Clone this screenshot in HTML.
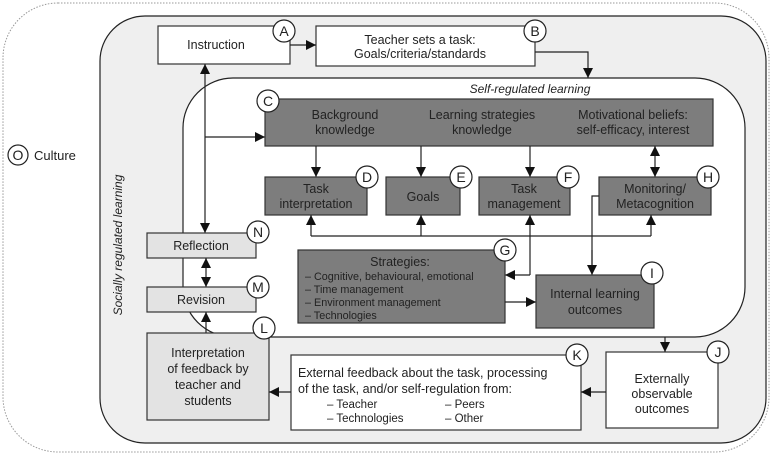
<!DOCTYPE html>
<html><head><meta charset="utf-8"><style>
html,body{margin:0;padding:0;background:#fff;}
svg{display:block;font-family:"Liberation Sans",sans-serif;}
text{font-size:12.5px;fill:#222;}
.dk{fill:#7d7d7d;stroke:#333;stroke-width:1.2;}
.lt{fill:#e3e3e3;stroke:#333;stroke-width:1.2;}
.wh{fill:#fff;stroke:#333;stroke-width:1.2;}
.ln{stroke:#222;stroke-width:1.2;fill:none;}
.c{fill:#fff;stroke:#222;stroke-width:1.2;}
.cl{font-size:14px;text-anchor:middle;}
.m{text-anchor:middle;}
.sl{font-size:10.8px;}
</style></head><body>
<svg width="772" height="455" viewBox="0 0 772 455">
<defs>
<marker id="a" viewBox="0 0 10 10" refX="10" refY="5" markerWidth="10" markerHeight="10" markerUnits="userSpaceOnUse" orient="auto"><path d="M0,0L10,5L0,10z" fill="#111"/></marker>
<marker id="s" viewBox="0 0 10 10" refX="0" refY="5" markerWidth="10" markerHeight="10" markerUnits="userSpaceOnUse" orient="auto"><path d="M10,0L0,5L10,10z" fill="#111"/></marker>
</defs>
<rect x="3" y="3" width="766" height="449" rx="55" fill="#fff" stroke="#999" stroke-width="1" stroke-dasharray="1.5,1.5"/>
<rect x="100" y="16" width="666" height="427" rx="45" fill="#efefef" stroke="#222" stroke-width="1.2"/>
<rect x="183" y="78" width="562" height="259" rx="50" fill="#fff" stroke="#222" stroke-width="1.2"/>
<text x="530" y="93" style="font-style:italic;font-size:12px" class="m">Self-regulated learning</text>
<text transform="translate(122,245) rotate(-90)" class="m" style="font-style:italic;font-size:12px">Socially regulated learning</text>
<circle cx="18" cy="155" r="10" class="c"/><text x="18" y="160" class="cl">O</text>
<text x="34" y="160" style="font-size:13px">Culture</text>

<rect x="158" y="26" width="132" height="38" class="wh"/>
<text x="216" y="49" class="m">Instruction</text>
<rect x="316" y="26" width="219" height="40" class="wh"/>
<text x="420" y="44" class="m">Teacher sets a task:</text>
<text x="420" y="58" class="m">Goals/criteria/standards</text>
<line x1="290" y1="45" x2="316" y2="45" class="ln" marker-end="url(#a)"/>
<polyline points="535,52 588,52 588,78" class="ln" marker-end="url(#a)"/>

<line x1="205" y1="64" x2="205" y2="233" class="ln" marker-start="url(#s)" marker-end="url(#a)"/>
<line x1="205" y1="137" x2="265" y2="137" class="ln" marker-end="url(#a)"/>

<rect x="265" y="99" width="448" height="47" class="dk"/>
<text x="345" y="119" class="m">Background</text><text x="345" y="134" class="m">knowledge</text>
<text x="482" y="119" class="m">Learning strategies</text><text x="482" y="134" class="m">knowledge</text>
<text x="633" y="119" class="m">Motivational beliefs:</text><text x="633" y="134" class="m">self-efficacy, interest</text>

<line x1="316" y1="146" x2="316" y2="177" class="ln" marker-end="url(#a)"/>
<line x1="421" y1="146" x2="421" y2="177" class="ln" marker-end="url(#a)"/>
<line x1="530" y1="146" x2="530" y2="177" class="ln" marker-end="url(#a)"/>
<line x1="655" y1="146" x2="655" y2="177" class="ln" marker-start="url(#s)" marker-end="url(#a)"/>

<rect x="265" y="177" width="102" height="38" class="dk"/>
<text x="316" y="193" class="m">Task</text><text x="316" y="208" class="m">interpretation</text>
<rect x="386" y="177" width="74" height="38" class="dk"/>
<text x="423" y="201" class="m">Goals</text>
<rect x="479" y="177" width="91" height="38" class="dk"/>
<text x="524" y="193" class="m">Task</text><text x="524" y="208" class="m">management</text>
<rect x="599" y="177" width="112" height="38" class="dk"/>
<text x="655" y="193" class="m">Monitoring/</text><text x="655" y="208" class="m">Metacognition</text>

<polyline points="311,236 651,236" class="ln"/>
<line x1="311" y1="236" x2="311" y2="215" class="ln" marker-end="url(#a)"/>
<line x1="421" y1="236" x2="421" y2="215" class="ln" marker-end="url(#a)"/>
<line x1="651" y1="236" x2="651" y2="215" class="ln" marker-end="url(#a)"/>
<line x1="530" y1="275" x2="530" y2="215" class="ln" marker-end="url(#a)"/>
<line x1="530" y1="275" x2="505" y2="275" class="ln" marker-end="url(#a)"/>
<polyline points="599,196 592,196 592,268" class="ln"/>
<line x1="592" y1="250" x2="592" y2="275" class="ln" marker-end="url(#a)"/>

<rect x="298" y="250" width="207" height="73" class="dk"/>
<text x="400" y="266" class="m">Strategies:</text>
<text x="305" y="280" class="sl">– Cognitive, behavioural, emotional</text>
<text x="305" y="293" class="sl">– Time management</text>
<text x="305" y="306" class="sl">– Environment management</text>
<text x="305" y="319" class="sl">– Technologies</text>
<line x1="505" y1="302" x2="536" y2="302" class="ln" marker-end="url(#a)"/>
<rect x="536" y="275" width="118" height="53" class="dk"/>
<text x="595" y="298" class="m">Internal learning</text><text x="595" y="314" class="m">outcomes</text>

<rect x="147" y="233" width="109" height="25" class="lt"/>
<text x="201" y="250" class="m">Reflection</text>
<line x1="206" y1="258" x2="206" y2="287" class="ln" marker-start="url(#s)" marker-end="url(#a)"/>
<rect x="147" y="287" width="109" height="25" class="lt"/>
<text x="201" y="304" class="m">Revision</text>
<line x1="206" y1="333" x2="206" y2="312" class="ln" marker-end="url(#a)"/>
<rect x="147" y="333" width="122" height="87" class="lt"/>
<text x="208" y="357" class="m">Interpretation</text>
<text x="208" y="373" class="m">of feedback by</text>
<text x="208" y="389" class="m">teacher and</text>
<text x="208" y="405" class="m">students</text>

<rect x="291" y="355" width="290" height="75" class="wh"/>
<text x="298" y="377">External feedback about the task, processing</text>
<text x="298" y="393">of the task, and/or self-regulation from:</text>
<text x="327" y="408" style="font-size:11.5px">– Teacher</text>
<text x="327" y="422" style="font-size:11.5px">– Technologies</text>
<text x="445" y="408" style="font-size:11.5px">– Peers</text>
<text x="445" y="422" style="font-size:11.5px">– Other</text>
<rect x="606" y="352" width="112" height="76" class="wh"/>
<text x="662" y="383" class="m">Externally</text>
<text x="662" y="398" class="m">observable</text>
<text x="662" y="413" class="m">outcomes</text>
<line x1="665" y1="337" x2="665" y2="352" class="ln" marker-end="url(#a)"/>
<line x1="606" y1="392" x2="581" y2="392" class="ln" marker-end="url(#a)"/>
<line x1="291" y1="392" x2="269" y2="392" class="ln" marker-end="url(#a)"/>

<g>
<circle cx="284" cy="31" r="11" class="c"/><text x="284" y="36" class="cl">A</text>
<circle cx="535" cy="31" r="11" class="c"/><text x="535" y="36" class="cl">B</text>
<circle cx="268" cy="101" r="11" class="c"/><text x="268" y="106" class="cl">C</text>
<circle cx="367" cy="177" r="11" class="c"/><text x="367" y="182" class="cl">D</text>
<circle cx="461" cy="177" r="11" class="c"/><text x="461" y="182" class="cl">E</text>
<circle cx="568" cy="177" r="11" class="c"/><text x="568" y="182" class="cl">F</text>
<circle cx="708" cy="177" r="11" class="c"/><text x="708" y="182" class="cl">H</text>
<circle cx="505" cy="250" r="11" class="c"/><text x="505" y="255" class="cl">G</text>
<circle cx="652" cy="273" r="11" class="c"/><text x="652" y="278" class="cl">I</text>
<circle cx="258" cy="232" r="11" class="c"/><text x="258" y="237" class="cl">N</text>
<circle cx="258" cy="287" r="11" class="c"/><text x="258" y="292" class="cl">M</text>
<circle cx="264" cy="328" r="11" class="c"/><text x="264" y="333" class="cl">L</text>
<circle cx="577" cy="355" r="11" class="c"/><text x="577" y="360" class="cl">K</text>
<circle cx="718" cy="352" r="11" class="c"/><text x="718" y="357" class="cl">J</text>
</g>
</svg>
</body></html>
